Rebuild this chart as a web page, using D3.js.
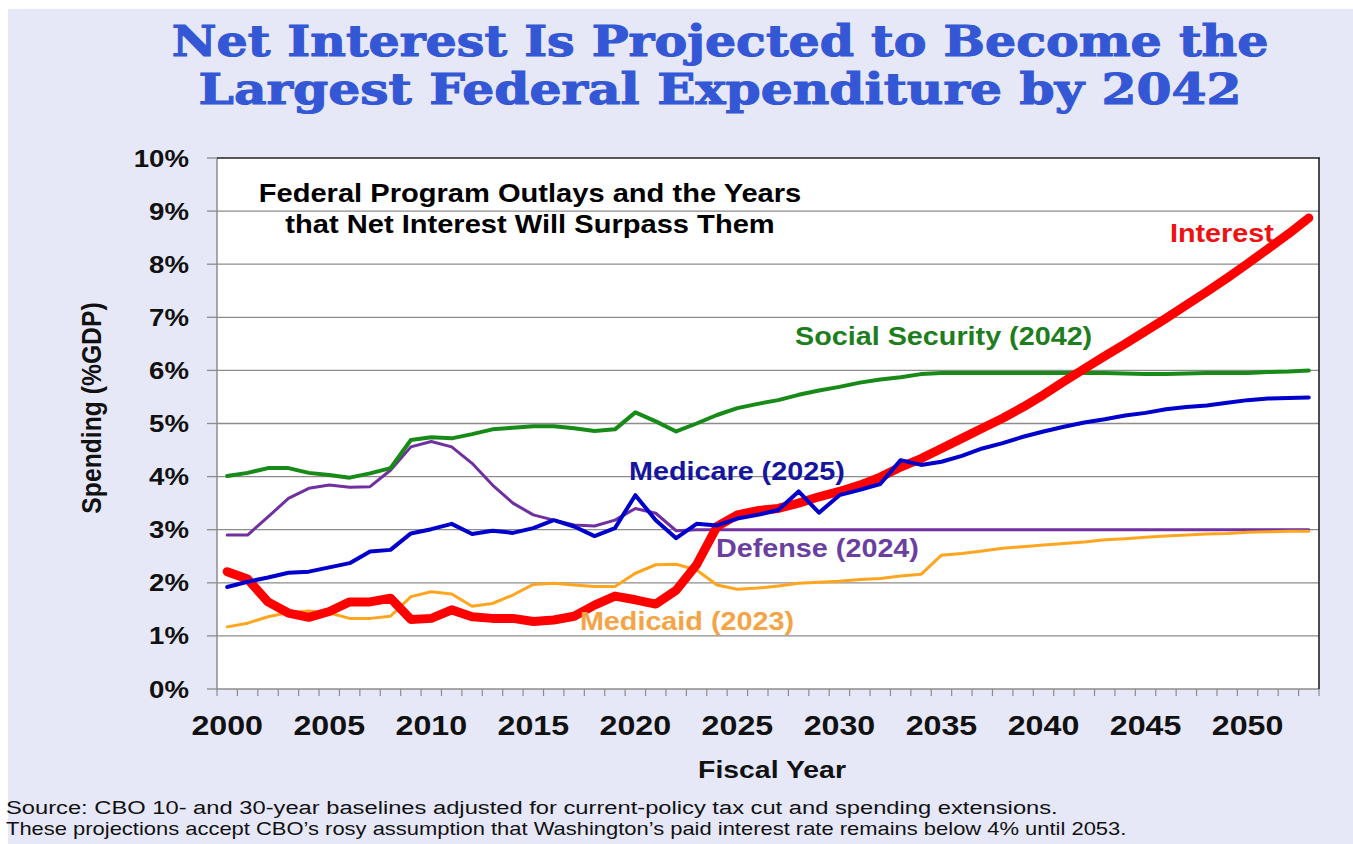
<!DOCTYPE html>
<html>
<head>
<meta charset="utf-8">
<script src="https://cdn.jsdelivr.net/npm/d3@7"></script>
<style>
  body { margin: 0; background: #ffffff; }
  svg { display: block; }
</style>
</head>
<body>
<svg id="chart" width="1353" height="844"></svg>
<script>
// Fiscal years on the category axis
const years = [2000, 2001, 2002, 2003, 2004, 2005, 2006, 2007, 2008, 2009,
               2010, 2011, 2012, 2013, 2014, 2015, 2016, 2017, 2018, 2019,
               2020, 2021, 2022, 2023, 2024, 2025, 2026, 2027, 2028, 2029,
               2030, 2031, 2032, 2033, 2034, 2035, 2036, 2037, 2038, 2039,
               2040, 2041, 2042, 2043, 2044, 2045, 2046, 2047, 2048, 2049,
               2050, 2051, 2052, 2053];
const xTickYears = [2000, 2005, 2010, 2015, 2020, 2025, 2030, 2035, 2040, 2045, 2050];
const yTicks = [0, 1, 2, 3, 4, 5, 6, 7, 8, 9, 10];

// Outlays as % of GDP
const interest = [2.21, 2.07, 1.64, 1.43, 1.35, 1.46, 1.64, 1.64, 1.71, 1.31,
                  1.33, 1.49, 1.36, 1.33, 1.33, 1.27, 1.30, 1.37, 1.58, 1.75,
                  1.68, 1.60, 1.86, 2.34, 3.06, 3.28, 3.36, 3.40, 3.50, 3.62,
                  3.72, 3.84, 3.99, 4.18, 4.34, 4.53, 4.72, 4.91, 5.10, 5.31,
                  5.54, 5.79, 6.03, 6.27, 6.50, 6.74, 6.98, 7.23, 7.48, 7.74,
                  8.01, 8.29, 8.57, 8.87];
const socialSecurity = [4.01, 4.07, 4.16, 4.16, 4.07, 4.03, 3.98, 4.06, 4.16, 4.69,
                        4.74, 4.72, 4.80, 4.89, 4.92, 4.95, 4.95, 4.91, 4.86, 4.89,
                        5.21, 5.04, 4.85, 5.00, 5.16, 5.29, 5.37, 5.44, 5.54, 5.62,
                        5.69, 5.77, 5.83, 5.87, 5.93, 5.95, 5.95, 5.95, 5.95, 5.95,
                        5.95, 5.95, 5.95, 5.95, 5.94, 5.93, 5.93, 5.94, 5.95, 5.95,
                        5.95, 5.97, 5.98, 6.00];
const medicare = [1.92, 2.02, 2.10, 2.19, 2.21, 2.29, 2.37, 2.59, 2.62, 2.93,
                  3.01, 3.11, 2.92, 2.98, 2.94, 3.03, 3.18, 3.06, 2.88, 3.03,
                  3.65, 3.18, 2.84, 3.11, 3.08, 3.21, 3.28, 3.37, 3.72, 3.32,
                  3.65, 3.75, 3.86, 4.31, 4.22, 4.28, 4.39, 4.53, 4.63, 4.75,
                  4.85, 4.94, 5.02, 5.08, 5.15, 5.20, 5.27, 5.31, 5.34, 5.39,
                  5.44, 5.47, 5.48, 5.49];
const defense = [2.90, 2.90, 3.24, 3.59, 3.78, 3.84, 3.80, 3.81, 4.12, 4.56,
                 4.66, 4.56, 4.25, 3.84, 3.50, 3.28, 3.18, 3.09, 3.07, 3.18,
                 3.40, 3.31, 2.98, 3.00, 3.00, 3.00, 3.00, 3.00, 3.00, 3.00,
                 3.00, 3.00, 3.00, 3.00, 3.00, 3.00, 3.00, 3.00, 3.00, 3.00,
                 3.00, 3.00, 3.00, 3.00, 3.00, 3.00, 3.00, 3.00, 3.00, 3.00,
                 3.00, 3.00, 3.00, 3.00];
const medicaid = [1.17, 1.24, 1.36, 1.44, 1.47, 1.43, 1.33, 1.33, 1.37, 1.74,
                  1.83, 1.79, 1.56, 1.61, 1.77, 1.97, 1.99, 1.96, 1.93, 1.93,
                  2.18, 2.34, 2.35, 2.24, 1.96, 1.88, 1.90, 1.94, 1.99, 2.01,
                  2.03, 2.06, 2.08, 2.13, 2.16, 2.52, 2.55, 2.60, 2.65, 2.68,
                  2.71, 2.74, 2.77, 2.81, 2.83, 2.86, 2.88, 2.90, 2.92, 2.93,
                  2.95, 2.96, 2.97, 2.97];

const W = 1353, H = 844;
const plot = { left: 217, right: 1319, top: 158, bottom: 689 };
const SANS = "'Liberation Sans', Arial, sans-serif";
const SX = 1.15; // horizontal stretch of the slide lettering

const svg = d3.select("#chart");

// Slide background
svg.append("rect").attr("x", 0).attr("y", 0).attr("width", W).attr("height", H).attr("fill", "#ffffff");
svg.append("rect").attr("x", 8).attr("y", 9).attr("width", W - 8).attr("height", H - 9).attr("fill", "#E6E8F8");

// Plot area
svg.append("rect")
  .attr("x", plot.left).attr("y", plot.top)
  .attr("width", plot.right - plot.left).attr("height", plot.bottom - plot.top)
  .attr("fill", "#ffffff");

const x = d3.scaleBand().domain(years).range([plot.left, plot.right]).paddingInner(0).paddingOuter(0);
const cx = d => x(d) + x.bandwidth() / 2;
const y = d3.scaleLinear().domain([0, 10]).range([plot.bottom, plot.top]);

function stretchedText(parent, px, py, str, size, fill, anchor, weight, sx) {
  return parent.append("text")
    .attr("transform", `translate(${px},${py}) scale(${sx},1)`)
    .attr("text-anchor", anchor)
    .attr("font-family", SANS)
    .attr("font-weight", weight)
    .attr("font-size", size)
    .attr("fill", fill)
    .text(str);
}

// Horizontal gridlines and left tick marks
const grid = svg.append("g");
grid.selectAll("line.grid").data(yTicks.filter(t => t > 0 && t < 10)).join("line")
  .attr("class", "grid")
  .attr("x1", plot.left).attr("x2", plot.right)
  .attr("y1", d => y(d)).attr("y2", d => y(d))
  .attr("stroke", "#8C8C8C").attr("stroke-width", 1.3);
grid.selectAll("line.ytick").data(yTicks).join("line")
  .attr("class", "ytick")
  .attr("x1", plot.left - 10).attr("x2", plot.left)
  .attr("y1", d => y(d)).attr("y2", d => y(d))
  .attr("stroke", "#8C8C8C").attr("stroke-width", 1.3);

// Axis lines (left and bottom gray, top and right dark)
svg.append("line").attr("x1", plot.left).attr("x2", plot.left).attr("y1", plot.top).attr("y2", plot.bottom)
  .attr("stroke", "#8C8C8C").attr("stroke-width", 1.5);
svg.append("line").attr("x1", plot.left).attr("x2", plot.right).attr("y1", plot.bottom).attr("y2", plot.bottom)
  .attr("stroke", "#8C8C8C").attr("stroke-width", 1.5);
svg.append("line").attr("x1", plot.left).attr("x2", plot.right + 1).attr("y1", plot.top).attr("y2", plot.top)
  .attr("stroke", "#222222").attr("stroke-width", 1.6);
svg.append("line").attr("x1", plot.right).attr("x2", plot.right).attr("y1", plot.top).attr("y2", plot.bottom)
  .attr("stroke", "#222222").attr("stroke-width", 1.6);

// Category tick marks at band edges
const edges = years.map(d => x(d)).concat([plot.right]);
svg.append("g").selectAll("line").data(edges).join("line")
  .attr("x1", d => d).attr("x2", d => d)
  .attr("y1", plot.bottom).attr("y2", plot.bottom + 7)
  .attr("stroke", "#8C8C8C").attr("stroke-width", 1.2);

// Y tick labels
const yLab = svg.append("g");
yTicks.forEach(t => {
  stretchedText(yLab, 189, y(t) + 8.5, t + "%", 24, "#111111", "end", "bold", SX);
});

// X tick labels
const xLab = svg.append("g");
xTickYears.forEach(t => {
  stretchedText(xLab, cx(t), 735, String(t), 28, "#111111", "middle", "bold", SX);
});

// Axis titles
stretchedText(svg, (plot.left + plot.right) / 2 + 4, 778, "Fiscal Year", 24.7, "#111111", "middle", "bold", SX);
svg.append("text")
  .attr("transform", `translate(101,408) scale(${SX},1) rotate(-90)`)
  .attr("text-anchor", "middle")
  .attr("font-family", SANS).attr("font-weight", "bold").attr("font-size", 24.7)
  .attr("fill", "#111111")
  .text("Spending (%GDP)");

// Series lines
const line = d3.line().x((d, i) => cx(years[i])).y(d => y(d));
const series = [
  { values: defense, color: "#7030A0", width: 3 },
  { values: medicaid, color: "#FFA51F", width: 3 },
  { values: socialSecurity, color: "#178A17", width: 4 },
  { values: interest, color: "#FF0000", width: 9 },
  { values: medicare, color: "#0000CC", width: 4 }
];
svg.append("g").selectAll("path").data(series).join("path")
  .attr("d", d => line(d.values))
  .attr("fill", "none")
  .attr("stroke", d => d.color)
  .attr("stroke-width", d => d.width)
  .attr("stroke-linejoin", "round")
  .attr("stroke-linecap", "round");

// Series labels
const lab = svg.append("g");
stretchedText(lab, 1170, 242, "Interest", 25, "#EE1111", "start", "bold", SX);
stretchedText(lab, 795, 345, "Social Security (2042)", 25, "#1E7E1E", "start", "bold", SX);
stretchedText(lab, 629, 480, "Medicare (2025)", 25, "#1515A0", "start", "bold", SX);
stretchedText(lab, 716, 557, "Defense (2024)", 25, "#6B3FA0", "start", "bold", SX);
stretchedText(lab, 794, 630, "Medicaid (2023)", 25, "#F4A444", "end", "bold", SX);

// Inner caption
stretchedText(svg, 530, 202, "Federal Program Outlays and the Years", 25.3, "#000000", "middle", "bold", SX);
stretchedText(svg, 530, 233, "that Net Interest Will Surpass Them", 25.3, "#000000", "middle", "bold", SX);

// Title, each line fitted to its width
const titleLines = [
  { text: "Net Interest Is Projected to Become the", base: 56, width: 1097 },
  { text: "Largest Federal Expenditure by 2042", base: 104, width: 1043 }
];
titleLines.forEach(t => {
  const n = svg.append("text")
    .attr("text-anchor", "middle")
    .attr("font-family", "'DejaVu Serif', serif")
    .attr("font-weight", "bold")
    .attr("font-size", 43)
    .attr("fill", "#3457D5")
    .attr("stroke", "#3457D5")
    .attr("stroke-width", 1.1)
    .text(t.text);
  const s = t.width / n.node().getComputedTextLength();
  n.attr("transform", `translate(720,${t.base}) scale(${s},1)`);
});

// Source notes, each line fitted to its width
const notes = [
  { text: "Source: CBO 10- and 30-year baselines adjusted for current-policy tax cut and spending extensions.", base: 814, width: 1052 },
  { text: "These projections accept CBO\u2019s rosy assumption that Washington\u2019s paid interest rate remains below 4% until 2053.", base: 835, width: 1121 }
];
notes.forEach(t => {
  const n = svg.append("text")
    .attr("font-family", SANS).attr("font-size", 18).attr("fill", "#111111").text(t.text);
  const s = t.width / n.node().getComputedTextLength();
  n.attr("transform", `translate(6,${t.base}) scale(${s},1)`);
});
</script>
</body>
</html>
